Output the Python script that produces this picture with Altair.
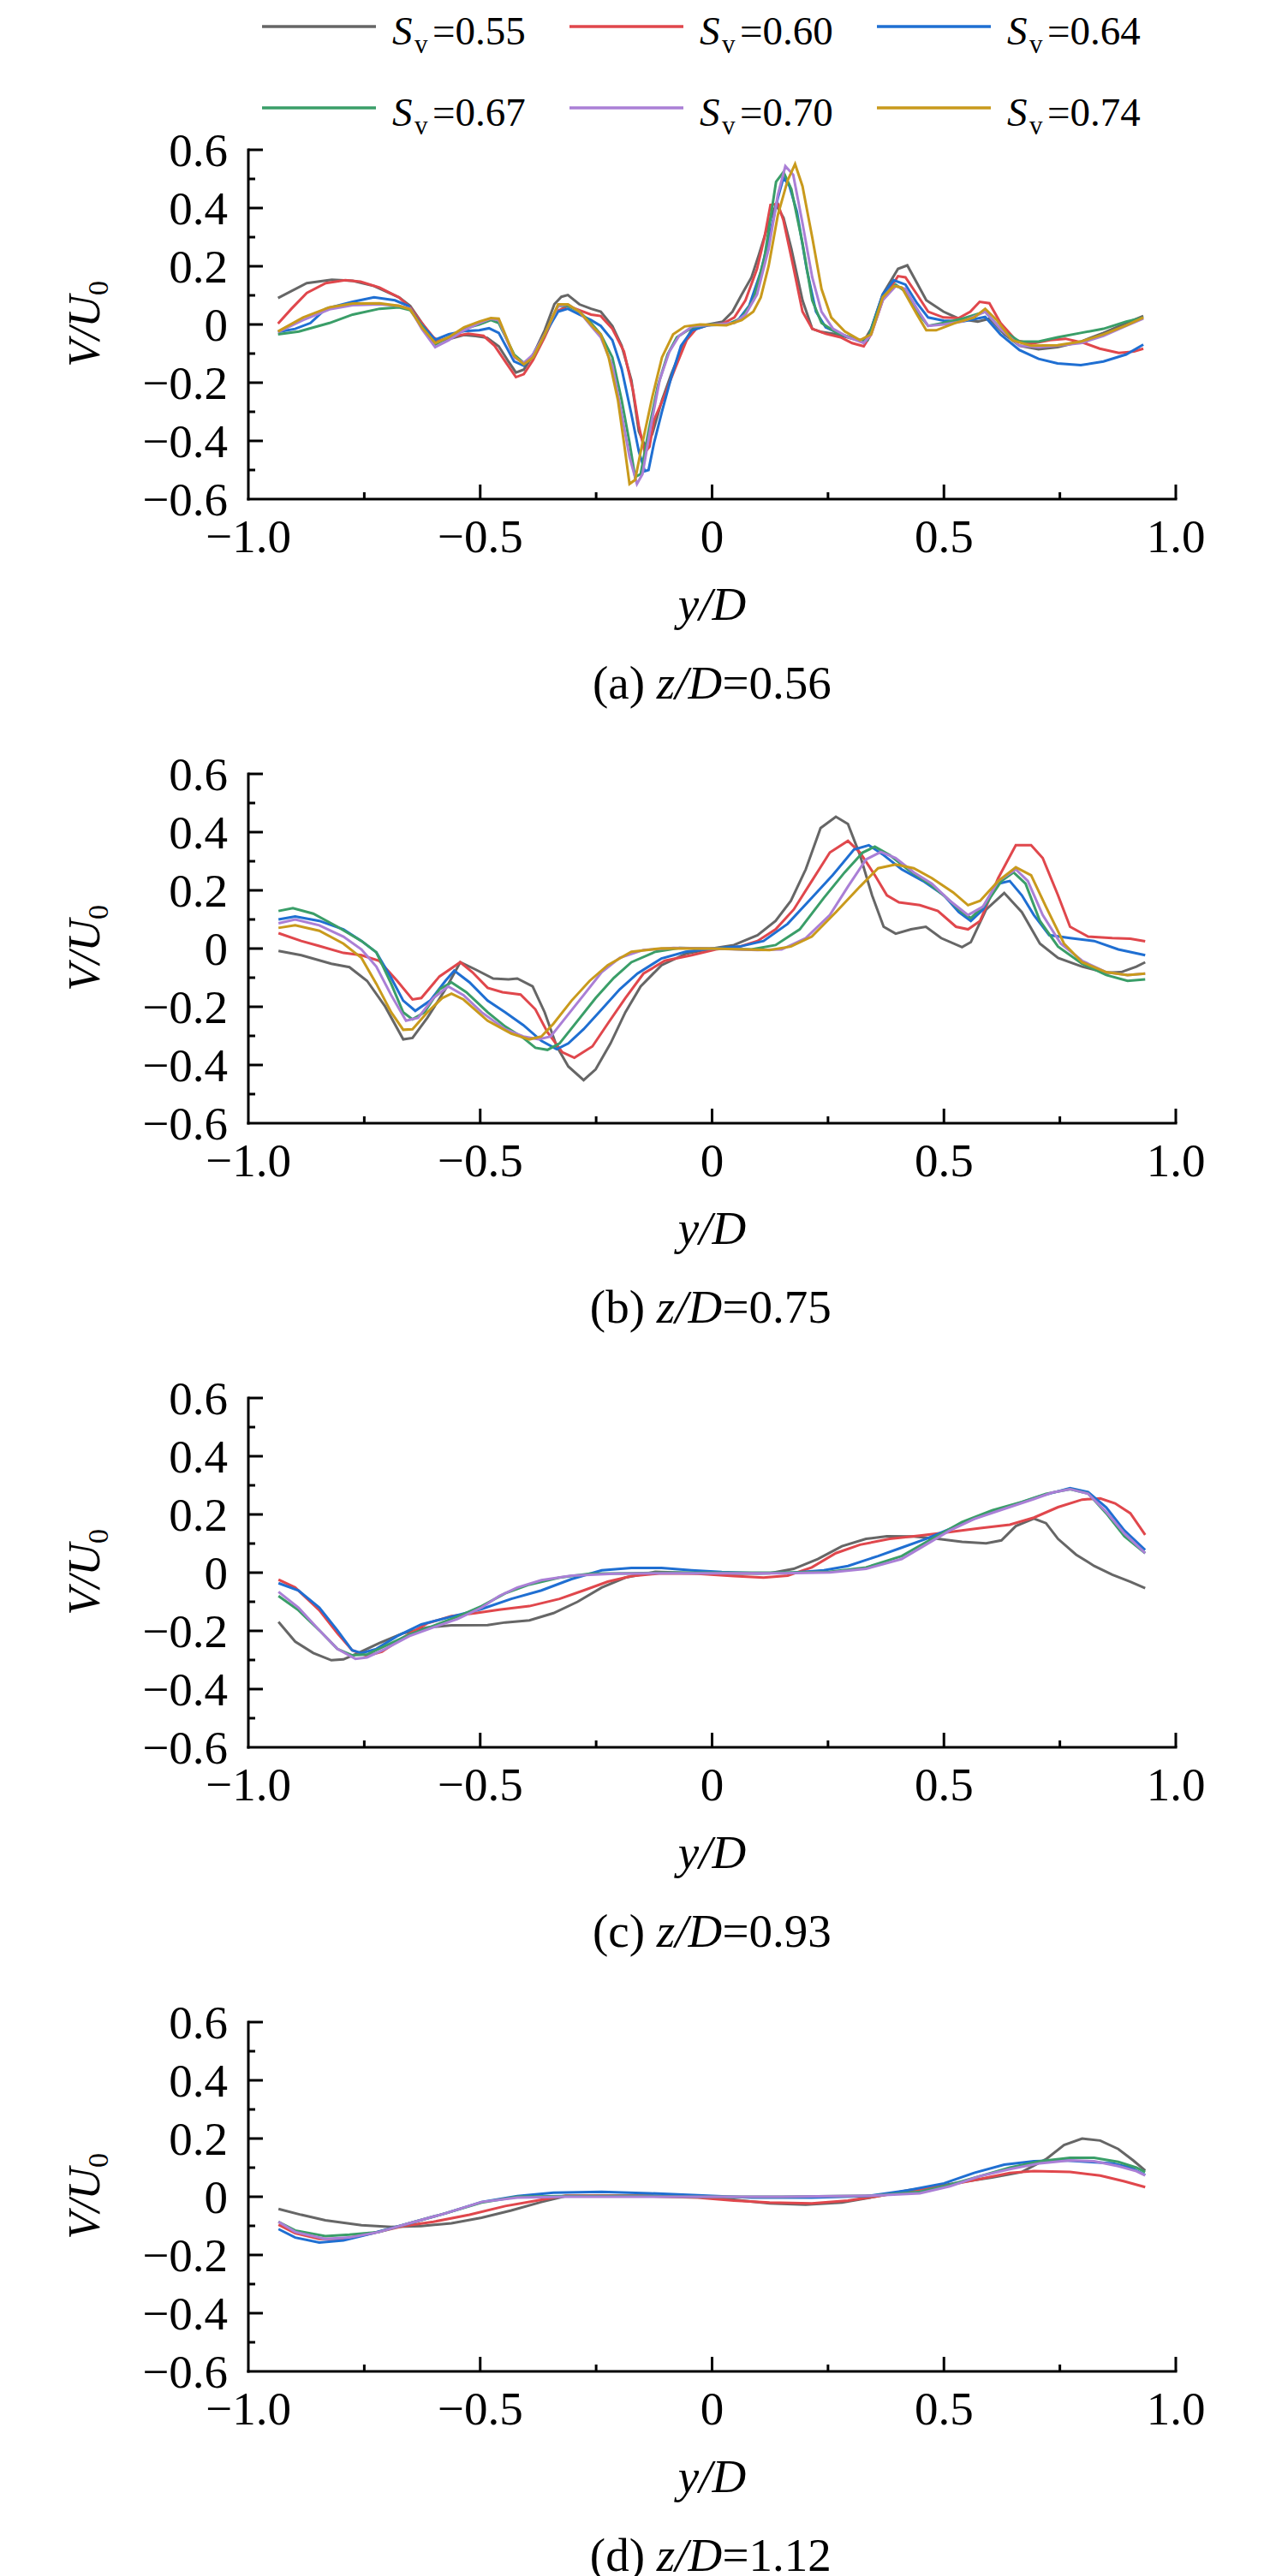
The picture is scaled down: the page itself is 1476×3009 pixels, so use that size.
import altair as alt
import pandas as pd

FONT = "Liberation Serif"
SERIES = ["0.55", "0.60", "0.64", "0.67", "0.70", "0.74"]
COLORS = ["#666666", "#e0474c", "#1f6fd2", "#3a9e68", "#aa7fd6", "#c99a1c"]

X_AXIS_LINE = [-1.0, 1.0]
Y_AXIS_LINE = [-0.6, 0.6]
X_LABEL_TICKS = [-1.0, -0.5, 0, 0.5, 1.0]
X_TICK_TEXT = ["\u22121.0", "\u22120.5", "0", "0.5", "1.0"]
Y_LABEL_TICKS = [-0.6, -0.4, -0.2, 0, 0.2, 0.4, 0.6]
Y_TICK_TEXT = ["\u22120.6", "\u22120.4", "\u22120.2", "0", "0.2", "0.4", "0.6"]
X_MAJOR_INNER = [-0.5, 0, 0.5, 1.0]
X_MINOR_INNER = [-0.75, -0.25, 0.25, 0.75]
Y_MAJOR_INNER = [-0.4, -0.2, 0, 0.2, 0.4, 0.6]
Y_MINOR_INNER = [-0.5, -0.3, -0.1, 0.1, 0.3, 0.5]

PANEL_TAGS = ["(a)", "(b)", "(c)", "(d)"]
PANEL_ZD = ["=0.56", "=0.75", "=0.93", "=1.12"]

# ---------------- panel (a) z/D=0.56 ----------------
A_055 = [(-0.936,0.091),(-0.874,0.142),(-0.820,0.154),(-0.775,0.150),(-0.729,0.132),(-0.675,0.093),(-0.651,0.064),(-0.630,0.015),(-0.609,-0.034),(-0.593,-0.059),(-0.564,-0.049),(-0.535,-0.036),(-0.510,-0.040),(-0.485,-0.046),(-0.460,-0.075),(-0.438,-0.130),(-0.423,-0.165),(-0.406,-0.155),(-0.386,-0.105),(-0.361,-0.020),(-0.340,0.070),(-0.325,0.095),(-0.311,0.101),(-0.286,0.069),(-0.261,0.054),(-0.240,0.044),(-0.215,-0.005),(-0.195,-0.073),(-0.174,-0.191),(-0.158,-0.367),(-0.145,-0.416),(-0.129,-0.377),(-0.108,-0.260),(-0.088,-0.171),(-0.063,-0.073),(-0.043,-0.015),(-0.018,-0.003),(0.023,0.010),(0.044,0.044),(0.064,0.103),(0.085,0.162),(0.101,0.240),(0.122,0.348),(0.138,0.411),(0.154,0.367),(0.171,0.260),(0.195,0.083),(0.216,-0.015),(0.236,-0.026),(0.269,-0.034),(0.302,-0.049),(0.327,-0.059),(0.343,-0.015),(0.368,0.103),(0.401,0.191),(0.421,0.203),(0.442,0.142),(0.462,0.083),(0.499,0.044),(0.532,0.020),(0.573,0.010),(0.598,0.020),(0.631,-0.034),(0.663,-0.073),(0.704,-0.085),(0.745,-0.078),(0.795,-0.059),(0.844,-0.029),(0.893,0.005),(0.930,0.029)]
A_060 = [(-0.936,0.003),(-0.907,0.054),(-0.874,0.108),(-0.833,0.142),(-0.791,0.152),(-0.758,0.147),(-0.717,0.127),(-0.675,0.093),(-0.651,0.059),(-0.626,0.005),(-0.601,-0.044),(-0.589,-0.056),(-0.560,-0.042),(-0.526,-0.032),(-0.493,-0.039),(-0.469,-0.073),(-0.444,-0.132),(-0.423,-0.181),(-0.406,-0.171),(-0.386,-0.122),(-0.361,-0.044),(-0.336,0.044),(-0.311,0.064),(-0.286,0.049),(-0.261,0.034),(-0.240,0.029),(-0.215,-0.015),(-0.190,-0.093),(-0.170,-0.230),(-0.158,-0.348),(-0.145,-0.440),(-0.135,-0.420),(-0.125,-0.328),(-0.104,-0.250),(-0.080,-0.152),(-0.055,-0.054),(-0.034,-0.015),(-0.010,-0.003),(0.023,0.003),(0.048,0.024),(0.072,0.083),(0.097,0.191),(0.113,0.299),(0.126,0.411),(0.142,0.414),(0.154,0.357),(0.175,0.200),(0.195,0.044),(0.216,-0.015),(0.245,-0.032),(0.277,-0.044),(0.302,-0.064),(0.327,-0.075),(0.343,-0.034),(0.368,0.083),(0.401,0.166),(0.417,0.162),(0.442,0.103),(0.466,0.044),(0.499,0.024),(0.532,0.022),(0.557,0.044),(0.577,0.078),(0.598,0.073),(0.622,0.005),(0.655,-0.054),(0.688,-0.066),(0.729,-0.054),(0.762,-0.049),(0.803,-0.064),(0.836,-0.083),(0.877,-0.098),(0.910,-0.093),(0.930,-0.083)]
A_064 = [(-0.936,-0.026),(-0.899,-0.015),(-0.866,0.005),(-0.833,0.054),(-0.775,0.078),(-0.729,0.093),(-0.684,0.083),(-0.655,0.064),(-0.630,0.005),(-0.597,-0.052),(-0.568,-0.034),(-0.535,-0.023),(-0.502,-0.020),(-0.481,-0.013),(-0.460,-0.029),(-0.427,-0.127),(-0.406,-0.142),(-0.386,-0.103),(-0.361,-0.034),(-0.332,0.044),(-0.311,0.054),(-0.286,0.034),(-0.261,0.015),(-0.240,-0.005),(-0.215,-0.054),(-0.195,-0.152),(-0.174,-0.308),(-0.158,-0.436),(-0.145,-0.504),(-0.137,-0.500),(-0.125,-0.406),(-0.108,-0.299),(-0.088,-0.181),(-0.067,-0.073),(-0.043,-0.020),(-0.010,-0.003),(0.031,0.000),(0.056,0.015),(0.080,0.064),(0.105,0.181),(0.126,0.318),(0.142,0.436),(0.154,0.504),(0.167,0.475),(0.183,0.387),(0.204,0.191),(0.224,0.044),(0.245,-0.010),(0.286,-0.039),(0.319,-0.054),(0.335,-0.054),(0.368,0.103),(0.392,0.152),(0.417,0.137),(0.442,0.073),(0.466,0.024),(0.499,0.013),(0.540,0.010),(0.589,0.026),(0.622,-0.034),(0.663,-0.088),(0.704,-0.118),(0.745,-0.134),(0.795,-0.140),(0.844,-0.127),(0.893,-0.103),(0.930,-0.069)]
A_067 = [(-0.936,-0.034),(-0.891,-0.024),(-0.825,0.005),(-0.775,0.034),(-0.717,0.054),(-0.675,0.059),(-0.651,0.049),(-0.626,-0.005),(-0.597,-0.069),(-0.568,-0.044),(-0.535,-0.015),(-0.502,0.000),(-0.477,0.015),(-0.460,0.005),(-0.427,-0.103),(-0.406,-0.132),(-0.386,-0.113),(-0.361,-0.034),(-0.332,0.064),(-0.311,0.064),(-0.286,0.044),(-0.261,0.005),(-0.240,-0.034),(-0.215,-0.113),(-0.195,-0.260),(-0.178,-0.406),(-0.166,-0.524),(-0.154,-0.514),(-0.137,-0.367),(-0.117,-0.211),(-0.096,-0.103),(-0.076,-0.044),(-0.043,-0.010),(-0.002,0.000),(0.039,0.002),(0.064,0.024),(0.089,0.083),(0.113,0.230),(0.138,0.490),(0.154,0.524),(0.171,0.465),(0.195,0.279),(0.216,0.083),(0.236,0.005),(0.269,-0.029),(0.319,-0.054),(0.335,-0.054),(0.368,0.093),(0.396,0.137),(0.417,0.113),(0.442,0.044),(0.466,-0.005),(0.499,0.005),(0.540,0.020),(0.589,0.044),(0.622,-0.015),(0.663,-0.059),(0.704,-0.059),(0.745,-0.044),(0.795,-0.029),(0.844,-0.015),(0.893,0.010),(0.930,0.024)]
A_070 = [(-0.936,-0.026),(-0.882,0.015),(-0.825,0.052),(-0.775,0.066),(-0.717,0.069),(-0.675,0.064),(-0.651,0.054),(-0.626,-0.015),(-0.597,-0.078),(-0.568,-0.054),(-0.535,-0.020),(-0.502,0.005),(-0.477,0.020),(-0.460,0.015),(-0.427,-0.113),(-0.406,-0.132),(-0.386,-0.103),(-0.361,-0.034),(-0.332,0.064),(-0.311,0.069),(-0.286,0.044),(-0.261,-0.005),(-0.240,-0.044),(-0.215,-0.142),(-0.195,-0.308),(-0.178,-0.455),(-0.162,-0.548),(-0.150,-0.514),(-0.133,-0.357),(-0.113,-0.191),(-0.092,-0.093),(-0.071,-0.039),(-0.043,-0.007),(0.007,0.000),(0.048,0.005),(0.072,0.034),(0.097,0.103),(0.122,0.260),(0.142,0.446),(0.158,0.544),(0.175,0.514),(0.195,0.348),(0.216,0.162),(0.236,0.044),(0.261,-0.015),(0.294,-0.044),(0.327,-0.064),(0.343,-0.034),(0.368,0.083),(0.396,0.132),(0.417,0.122),(0.442,0.054),(0.466,-0.005),(0.499,0.000),(0.540,0.010),(0.589,0.044),(0.622,-0.015),(0.663,-0.073),(0.704,-0.078),(0.745,-0.073),(0.795,-0.064),(0.844,-0.039),(0.893,-0.005),(0.930,0.020)]
A_074 = [(-0.936,-0.024),(-0.882,0.024),(-0.825,0.059),(-0.775,0.072),(-0.717,0.073),(-0.675,0.064),(-0.651,0.052),(-0.626,-0.010),(-0.597,-0.064),(-0.568,-0.044),(-0.535,-0.010),(-0.502,0.010),(-0.477,0.022),(-0.460,0.020),(-0.427,-0.108),(-0.406,-0.137),(-0.386,-0.113),(-0.361,-0.034),(-0.332,0.069),(-0.311,0.069),(-0.286,0.044),(-0.253,-0.015),(-0.240,-0.034),(-0.223,-0.113),(-0.203,-0.260),(-0.190,-0.406),(-0.178,-0.548),(-0.166,-0.534),(-0.150,-0.406),(-0.129,-0.250),(-0.108,-0.113),(-0.084,-0.034),(-0.059,-0.007),(-0.026,0.000),(0.031,-0.003),(0.064,0.015),(0.089,0.044),(0.105,0.093),(0.122,0.201),(0.142,0.377),(0.163,0.495),(0.179,0.551),(0.195,0.475),(0.216,0.299),(0.236,0.122),(0.257,0.024),(0.286,-0.024),(0.319,-0.054),(0.343,-0.034),(0.368,0.093),(0.392,0.132),(0.409,0.127),(0.442,0.034),(0.462,-0.020),(0.483,-0.020),(0.524,0.005),(0.565,0.024),(0.589,0.054),(0.614,0.015),(0.647,-0.054),(0.688,-0.073),(0.745,-0.071),(0.795,-0.059),(0.844,-0.034),(0.893,-0.003),(0.930,0.024)]

# ---------------- panel (b) z/D=0.75 ----------------
B_055 = [(-0.935,-0.008),(-0.886,-0.023),(-0.821,-0.052),(-0.782,-0.064),(-0.744,-0.111),(-0.705,-0.199),(-0.666,-0.312),(-0.646,-0.307),(-0.614,-0.238),(-0.575,-0.140),(-0.543,-0.047),(-0.510,-0.072),(-0.472,-0.103),(-0.439,-0.106),(-0.420,-0.103),(-0.387,-0.130),(-0.361,-0.219),(-0.335,-0.336),(-0.310,-0.405),(-0.277,-0.452),(-0.251,-0.415),(-0.219,-0.326),(-0.187,-0.219),(-0.154,-0.130),(-0.109,-0.057),(-0.057,-0.018),(0.000,0.000),(0.047,0.012),(0.098,0.046),(0.137,0.095),(0.170,0.164),(0.202,0.272),(0.234,0.414),(0.267,0.453),(0.293,0.428),(0.319,0.321),(0.345,0.183),(0.370,0.075),(0.396,0.051),(0.429,0.066),(0.461,0.075),(0.494,0.036),(0.539,0.005),(0.558,0.022),(0.591,0.134),(0.630,0.191),(0.668,0.125),(0.707,0.017),(0.746,-0.032),(0.798,-0.062),(0.850,-0.083),(0.882,-0.081),(0.915,-0.062),(0.934,-0.047)]
B_060 = [(-0.935,0.053),(-0.886,0.026),(-0.847,0.009),(-0.795,-0.015),(-0.756,-0.023),(-0.718,-0.042),(-0.679,-0.111),(-0.646,-0.175),(-0.627,-0.170),(-0.588,-0.096),(-0.543,-0.047),(-0.517,-0.081),(-0.484,-0.135),(-0.452,-0.150),(-0.413,-0.158),(-0.381,-0.209),(-0.355,-0.287),(-0.323,-0.356),(-0.297,-0.375),(-0.258,-0.336),(-0.225,-0.258),(-0.187,-0.170),(-0.148,-0.086),(-0.102,-0.042),(-0.044,-0.023),(0.008,-0.003),(0.060,0.007),(0.098,0.026),(0.137,0.066),(0.176,0.134),(0.215,0.232),(0.254,0.330),(0.293,0.370),(0.319,0.330),(0.351,0.252),(0.377,0.183),(0.403,0.159),(0.448,0.149),(0.487,0.129),(0.526,0.075),(0.552,0.066),(0.578,0.095),(0.617,0.242),(0.655,0.355),(0.688,0.355),(0.713,0.311),(0.746,0.183),(0.772,0.075),(0.811,0.041),(0.863,0.036),(0.902,0.034),(0.934,0.025)]
B_064 = [(-0.935,0.100),(-0.899,0.110),(-0.847,0.095),(-0.795,0.066),(-0.756,0.026),(-0.724,-0.013),(-0.692,-0.101),(-0.666,-0.179),(-0.640,-0.214),(-0.608,-0.179),(-0.575,-0.111),(-0.556,-0.076),(-0.523,-0.116),(-0.484,-0.179),(-0.446,-0.219),(-0.407,-0.263),(-0.368,-0.317),(-0.335,-0.346),(-0.310,-0.326),(-0.277,-0.277),(-0.238,-0.209),(-0.199,-0.140),(-0.161,-0.086),(-0.109,-0.034),(-0.057,-0.011),(0.000,0.000),(0.060,0.007),(0.111,0.026),(0.163,0.085),(0.215,0.174),(0.260,0.252),(0.306,0.340),(0.338,0.355),(0.370,0.321),(0.409,0.272),(0.455,0.232),(0.500,0.183),(0.532,0.125),(0.558,0.095),(0.584,0.134),(0.617,0.223),(0.642,0.232),(0.668,0.183),(0.694,0.115),(0.727,0.046),(0.772,0.036),(0.824,0.026),(0.876,-0.003),(0.934,-0.023)]
B_067 = [(-0.935,0.129),(-0.904,0.139),(-0.860,0.120),(-0.808,0.075),(-0.756,0.026),(-0.724,-0.013),(-0.692,-0.121),(-0.666,-0.219),(-0.646,-0.243),(-0.620,-0.219),(-0.588,-0.140),(-0.562,-0.116),(-0.530,-0.150),(-0.484,-0.219),(-0.446,-0.268),(-0.407,-0.307),(-0.381,-0.341),(-0.355,-0.348),(-0.329,-0.326),(-0.290,-0.248),(-0.251,-0.170),(-0.212,-0.101),(-0.174,-0.047),(-0.122,-0.011),(-0.070,0.002),(0.000,0.000),(0.085,-0.003),(0.137,0.012),(0.189,0.066),(0.241,0.174),(0.286,0.262),(0.325,0.330),(0.351,0.350),(0.383,0.321),(0.422,0.272),(0.468,0.223),(0.506,0.174),(0.539,0.125),(0.558,0.105),(0.591,0.154),(0.624,0.232),(0.650,0.262),(0.676,0.223),(0.707,0.095),(0.746,0.007),(0.798,-0.052),(0.850,-0.091),(0.896,-0.111),(0.934,-0.106)]
B_070 = [(-0.935,0.087),(-0.899,0.100),(-0.847,0.080),(-0.795,0.041),(-0.756,-0.003),(-0.724,-0.062),(-0.692,-0.160),(-0.660,-0.248),(-0.634,-0.238),(-0.601,-0.170),(-0.569,-0.130),(-0.536,-0.160),(-0.497,-0.219),(-0.446,-0.277),(-0.407,-0.302),(-0.374,-0.312),(-0.348,-0.302),(-0.316,-0.238),(-0.277,-0.160),(-0.238,-0.081),(-0.199,-0.032),(-0.148,-0.005),(-0.083,0.002),(0.000,0.000),(0.098,-0.005),(0.150,-0.003),(0.202,0.036),(0.254,0.115),(0.293,0.213),(0.332,0.306),(0.364,0.332),(0.396,0.311),(0.435,0.262),(0.474,0.223),(0.513,0.164),(0.552,0.115),(0.584,0.144),(0.617,0.232),(0.655,0.272),(0.681,0.232),(0.713,0.115),(0.752,0.017),(0.798,-0.042),(0.850,-0.081),(0.896,-0.091),(0.934,-0.086)]
B_074 = [(-0.935,0.071),(-0.899,0.080),(-0.847,0.061),(-0.795,0.017),(-0.756,-0.032),(-0.724,-0.121),(-0.692,-0.219),(-0.666,-0.279),(-0.646,-0.277),(-0.614,-0.219),(-0.582,-0.170),(-0.562,-0.155),(-0.536,-0.175),(-0.484,-0.248),(-0.433,-0.292),(-0.394,-0.312),(-0.368,-0.302),(-0.342,-0.258),(-0.303,-0.179),(-0.264,-0.111),(-0.225,-0.057),(-0.174,-0.011),(-0.109,0.001),(0.000,0.000),(0.124,-0.005),(0.170,0.007),(0.215,0.041),(0.267,0.125),(0.319,0.213),(0.358,0.276),(0.396,0.289),(0.435,0.276),(0.474,0.242),(0.520,0.193),(0.552,0.149),(0.578,0.164),(0.617,0.232),(0.655,0.279),(0.688,0.252),(0.720,0.144),(0.759,0.017),(0.798,-0.047),(0.850,-0.081),(0.896,-0.091),(0.934,-0.086)]

# ---------------- panel (c) z/D=0.93 (no S_v=0.74 curve) ----------------
C_055 = [(-0.935,-0.169),(-0.899,-0.237),(-0.860,-0.276),(-0.821,-0.301),(-0.795,-0.298),(-0.763,-0.276),(-0.718,-0.242),(-0.666,-0.208),(-0.614,-0.188),(-0.562,-0.181),(-0.484,-0.180),(-0.446,-0.171),(-0.394,-0.164),(-0.342,-0.139),(-0.290,-0.100),(-0.238,-0.051),(-0.187,-0.017),(-0.122,0.003),(-0.031,-0.002),(0.047,-0.004),(0.124,-0.002),(0.176,0.013),(0.228,0.047),(0.280,0.091),(0.332,0.116),(0.377,0.125),(0.435,0.124),(0.487,0.116),(0.539,0.106),(0.591,0.101),(0.624,0.111),(0.655,0.160),(0.694,0.186),(0.720,0.170),(0.746,0.116),(0.785,0.062),(0.824,0.023),(0.863,-0.007),(0.902,-0.031),(0.934,-0.053)]
C_060 = [(-0.935,-0.024),(-0.899,-0.051),(-0.847,-0.129),(-0.808,-0.208),(-0.776,-0.267),(-0.744,-0.286),(-0.712,-0.272),(-0.666,-0.223),(-0.614,-0.174),(-0.562,-0.149),(-0.510,-0.139),(-0.459,-0.127),(-0.394,-0.115),(-0.329,-0.090),(-0.277,-0.061),(-0.225,-0.031),(-0.174,-0.012),(-0.109,-0.002),(-0.031,-0.004),(0.047,-0.012),(0.111,-0.017),(0.163,-0.010),(0.215,0.018),(0.267,0.067),(0.319,0.096),(0.383,0.116),(0.448,0.127),(0.513,0.140),(0.578,0.153),(0.642,0.165),(0.694,0.189),(0.746,0.225),(0.798,0.251),(0.837,0.255),(0.869,0.238),(0.902,0.204),(0.934,0.130)]
C_064 = [(-0.935,-0.036),(-0.892,-0.061),(-0.847,-0.120),(-0.808,-0.198),(-0.776,-0.267),(-0.756,-0.276),(-0.724,-0.262),(-0.679,-0.218),(-0.627,-0.178),(-0.562,-0.151),(-0.497,-0.125),(-0.433,-0.090),(-0.368,-0.061),(-0.303,-0.022),(-0.238,0.008),(-0.174,0.016),(-0.109,0.016),(-0.044,0.008),(0.021,0.002),(0.098,-0.002),(0.176,0.000),(0.241,0.008),(0.293,0.023),(0.358,0.057),(0.409,0.086),(0.461,0.116),(0.513,0.150),(0.578,0.194),(0.642,0.228),(0.707,0.263),(0.772,0.290),(0.811,0.277),(0.850,0.224),(0.889,0.145),(0.934,0.078)]
C_067 = [(-0.935,-0.080),(-0.892,-0.129),(-0.847,-0.198),(-0.808,-0.262),(-0.776,-0.284),(-0.744,-0.281),(-0.705,-0.252),(-0.653,-0.213),(-0.601,-0.183),(-0.549,-0.151),(-0.497,-0.115),(-0.446,-0.071),(-0.394,-0.041),(-0.329,-0.017),(-0.264,-0.004),(-0.174,-0.002),(-0.083,0.000),(0.021,0.000),(0.150,0.000),(0.254,0.003),(0.332,0.018),(0.409,0.057),(0.474,0.116),(0.539,0.174),(0.604,0.214),(0.668,0.243),(0.720,0.271),(0.772,0.287),(0.811,0.272),(0.850,0.204),(0.889,0.125),(0.934,0.067)]
C_070 = [(-0.935,-0.066),(-0.892,-0.120),(-0.847,-0.198),(-0.808,-0.262),(-0.769,-0.296),(-0.744,-0.291),(-0.705,-0.262),(-0.653,-0.218),(-0.601,-0.188),(-0.549,-0.159),(-0.497,-0.120),(-0.459,-0.080),(-0.420,-0.051),(-0.368,-0.026),(-0.303,-0.010),(-0.212,-0.004),(-0.109,-0.002),(0.021,-0.002),(0.150,-0.002),(0.254,0.001),(0.332,0.013),(0.409,0.047),(0.461,0.096),(0.513,0.145),(0.565,0.184),(0.630,0.219),(0.694,0.253),(0.733,0.275),(0.772,0.287),(0.811,0.271),(0.850,0.209),(0.889,0.135),(0.934,0.067)]

# ---------------- panel (d) z/D=1.12 (no S_v=0.74 curve) ----------------
D_055 = [(-0.935,-0.042),(-0.886,-0.062),(-0.834,-0.081),(-0.756,-0.098),(-0.692,-0.104),(-0.627,-0.101),(-0.562,-0.091),(-0.497,-0.072),(-0.433,-0.047),(-0.368,-0.018),(-0.316,0.002),(-0.238,0.004),(-0.135,0.004),(-0.031,0.000),(0.047,-0.010),(0.124,-0.023),(0.202,-0.027),(0.280,-0.020),(0.358,0.002),(0.422,0.022),(0.487,0.036),(0.539,0.051),(0.604,0.066),(0.668,0.085),(0.720,0.129),(0.759,0.178),(0.798,0.200),(0.837,0.193),(0.876,0.164),(0.908,0.125),(0.934,0.090)]
D_060 = [(-0.935,-0.096),(-0.899,-0.125),(-0.847,-0.145),(-0.795,-0.145),(-0.731,-0.125),(-0.666,-0.101),(-0.601,-0.086),(-0.523,-0.062),(-0.446,-0.032),(-0.368,-0.010),(-0.316,0.004),(-0.238,0.004),(-0.135,0.002),(-0.031,-0.003),(0.047,-0.013),(0.124,-0.020),(0.215,-0.023),(0.293,-0.013),(0.358,0.002),(0.435,0.022),(0.513,0.041),(0.578,0.061),(0.642,0.082),(0.694,0.088),(0.772,0.085),(0.837,0.073),(0.889,0.053),(0.934,0.033)]
D_064 = [(-0.935,-0.111),(-0.899,-0.140),(-0.847,-0.157),(-0.795,-0.150),(-0.731,-0.125),(-0.653,-0.091),(-0.575,-0.057),(-0.497,-0.018),(-0.420,0.002),(-0.342,0.014),(-0.238,0.017),(-0.135,0.012),(-0.031,0.005),(0.085,-0.003),(0.215,-0.003),(0.332,0.002),(0.422,0.022),(0.500,0.046),(0.565,0.082),(0.630,0.110),(0.694,0.122),(0.759,0.125),(0.811,0.120),(0.863,0.115),(0.902,0.100),(0.934,0.075)]
D_067 = [(-0.935,-0.086),(-0.899,-0.116),(-0.834,-0.135),(-0.782,-0.130),(-0.718,-0.121),(-0.653,-0.091),(-0.575,-0.057),(-0.497,-0.020),(-0.420,0.000),(-0.316,0.002),(-0.187,0.002),(-0.031,0.000),(0.150,0.000),(0.345,0.004),(0.448,0.017),(0.513,0.041),(0.578,0.071),(0.642,0.100),(0.707,0.122),(0.772,0.134),(0.824,0.134),(0.876,0.120),(0.915,0.100),(0.934,0.085)]
D_070 = [(-0.935,-0.086),(-0.899,-0.121),(-0.834,-0.145),(-0.782,-0.140),(-0.718,-0.121),(-0.653,-0.091),(-0.575,-0.057),(-0.497,-0.018),(-0.420,-0.003),(-0.316,0.000),(-0.187,0.000),(-0.031,0.000),(0.150,0.000),(0.345,0.004),(0.448,0.012),(0.513,0.036),(0.578,0.071),(0.642,0.095),(0.707,0.115),(0.772,0.125),(0.824,0.122),(0.876,0.105),(0.915,0.088),(0.934,0.073)]

PANELS = [
    [A_055, A_060, A_064, A_067, A_070, A_074],
    [B_055, B_060, B_064, B_067, B_070, B_074],
    [C_055, C_060, C_064, C_067, C_070, None],
    [D_055, D_060, D_064, D_067, D_070, None],
]

W, H = 1083, 408
XS = alt.Scale(domain=[-1, 1], nice=False, zero=False)
YS = alt.Scale(domain=[-0.6, 0.6], nice=False, zero=False)
CS = alt.Scale(domain=SERIES, range=COLORS)


def frame(curves):
    rows = []
    for s, pts in zip(SERIES, curves):
        if pts is None:
            continue
        for x, v in pts:
            rows.append({"x": x, "v": v, "s": s})
    return pd.DataFrame(rows)


def ytick_layer(vals, length):
    return alt.Chart(pd.DataFrame({"t": vals})).mark_rule(color="black", strokeWidth=3).encode(
        y=alt.Y("t:Q", scale=YS, axis=None), x=alt.value(0), x2=alt.value(length))


def xtick_layer(vals, length):
    return alt.Chart(pd.DataFrame({"t": vals})).mark_rule(color="black", strokeWidth=3).encode(
        x=alt.X("t:Q", scale=XS, axis=None), y=alt.value(H), y2=alt.value(H - length))


def axis_line_layers():
    xl = alt.Chart(pd.DataFrame({"a": [X_AXIS_LINE[0]], "b": [X_AXIS_LINE[1]]})).mark_rule(
        color="black", strokeWidth=3, strokeCap="square").encode(
        x=alt.X("a:Q", scale=XS, axis=None), x2="b:Q", y=alt.value(H))
    yl = alt.Chart(pd.DataFrame({"a": [Y_AXIS_LINE[0]], "b": [Y_AXIS_LINE[1]]})).mark_rule(
        color="black", strokeWidth=3, strokeCap="square").encode(
        y=alt.Y("a:Q", scale=YS, axis=None), y2="b:Q", x=alt.value(0))
    return [xl, yl]


def tick_label_layers():
    xlab = alt.Chart(pd.DataFrame({"t": X_LABEL_TICKS, "s": X_TICK_TEXT})).mark_text(
        font=FONT, fontSize=55, align="center", baseline="alphabetic", color="black").encode(
        x=alt.X("t:Q", scale=XS, axis=None), y=alt.value(H + 62), text="s:N")
    ylab = alt.Chart(pd.DataFrame({"t": Y_LABEL_TICKS, "s": Y_TICK_TEXT})).mark_text(
        font=FONT, fontSize=55, align="right", baseline="alphabetic", dy=18.6, color="black").encode(
        y=alt.Y("t:Q", scale=YS, axis=None), x=alt.value(-24), text="s:N")
    return [xlab, ylab]


def text_layer(text, x, y, size=55, style="normal", align="center", angle=0, dy=0):
    return alt.Chart(pd.DataFrame({"t": [text]})).mark_text(
        font=FONT, fontSize=size, fontStyle=style, align=align, baseline="alphabetic",
        angle=angle, dy=dy, color="black").encode(text="t:N", x=alt.value(x), y=alt.value(y))


def panel(i):
    df = frame(PANELS[i])
    lines = alt.Chart(df).mark_line(strokeWidth=3).encode(
        x=alt.X("x:Q", scale=XS, axis=None),
        y=alt.Y("v:Q", scale=YS, axis=None),
        color=alt.Color("s:N", scale=CS, legend=None),
    )
    layers = [lines] + axis_line_layers() + [
        ytick_layer(Y_MAJOR_INNER, 17), ytick_layer(Y_MINOR_INNER, 8),
        xtick_layer(X_MAJOR_INNER, 17), xtick_layer(X_MINOR_INNER, 8),
    ] + tick_label_layers() + [
        # x-axis title
        text_layer("y/D", W / 2, H + 141, style="italic"),
        # y-axis title V/U0
        text_layer("V/U", -174, H / 2 - 34, size=52, style="italic", align="right", angle=270),
        text_layer("0", -174, H / 2 - 34, size=34, align="left", angle=270, dy=10),
        # caption
        text_layer(PANEL_TAGS[i], 463, H + 233, align="right"),
        text_layer("z/D", 515, H + 233, style="italic"),
        text_layer(PANEL_ZD[i], 553.5, H + 233, align="left"),
    ]
    return alt.layer(*layers).properties(width=W, height=H)


# legend (own small chart on top)
leg_df = pd.DataFrame({"s": SERIES, "val": ["=" + s for s in SERIES], "i": list(range(len(SERIES)))})
LX = alt.Scale(domain=[0, 2], range=[16, 734])
LY = alt.Scale(domain=[0, 1], range=[16, 111])
leg_base = alt.Chart(leg_df).transform_calculate(col="datum.i % 3", row="floor(datum.i / 3)")
lx = alt.X("col:Q", scale=LX, axis=None)
ly = alt.Y("row:Q", scale=LY, axis=None)
leg_rules = leg_base.mark_rule(strokeWidth=3.5, x2Offset=133).encode(
    x=lx, x2=alt.X2("col:Q"), y=ly, color=alt.Color("s:N", scale=CS, legend=None))
leg_S = leg_base.mark_text(text="S", font=FONT, fontSize=47, fontStyle="italic", align="left",
                           baseline="alphabetic", dx=152, dy=21, color="black").encode(x=lx, y=ly)
leg_v = leg_base.mark_text(text="v", font=FONT, fontSize=31, align="left",
                           baseline="alphabetic", dx=178, dy=31, color="black").encode(x=lx, y=ly)
leg_val = leg_base.mark_text(font=FONT, fontSize=47, align="left",
                             baseline="alphabetic", dx=199, dy=21, color="black").encode(
    x=lx, y=ly, text="val:N")
legend = alt.layer(leg_rules, leg_S, leg_v, leg_val).properties(width=W, height=130)

panels = alt.vconcat(panel(0), panel(1), panel(2), panel(3), spacing=321, bounds="flush")

chart = alt.vconcat(legend, panels, spacing=30, bounds="flush").properties(
    padding={"left": 66, "top": 6, "right": 10, "bottom": 10}
).configure_view(stroke=None)

chart.save("out.html", embed_options={"renderer": "svg", "actions": False})
